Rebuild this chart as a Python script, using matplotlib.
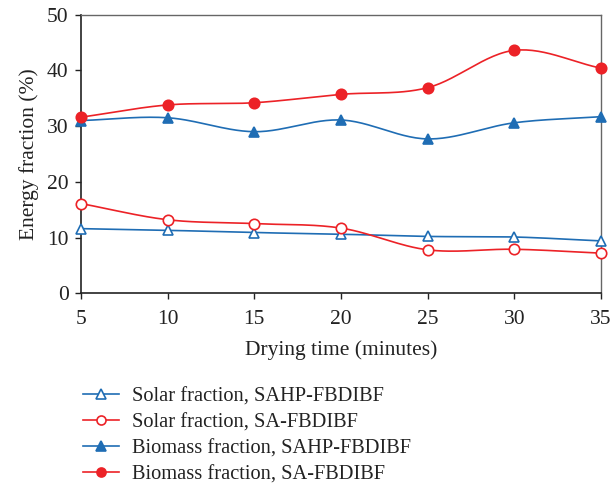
import numpy as np
import matplotlib.pyplot as plt
from matplotlib.lines import Line2D

# drying time (minutes)
time = [5, 10, 15, 20, 25, 30, 35]

# energy fractions (%)
solar_sahp = [11.6, 11.3, 10.9, 10.6, 10.2, 10.1, 9.4]
solar_sa = [16.1, 13.2, 12.5, 11.7, 7.8, 7.9, 7.2]
biomass_sahp = [31.0, 31.5, 29.0, 31.1, 27.7, 30.6, 31.7]
biomass_sa = [31.6, 33.8, 34.2, 35.7, 36.9, 43.6, 40.4]

labels = ['Solar fraction, SAHP-FBDIBF',
          'Solar fraction, SA-FBDIBF',
          'Biomass fraction, SAHP-FBDIBF',
          'Biomass fraction, SA-FBDIBF']

blue = '#1f6db4'
red = '#ec2227'


def smooth(x, y, n=30):
    # Catmull-Rom curve through the points (smoothed line look)
    x = np.asarray(x, float)
    y = np.asarray(y, float)
    px = np.concatenate([[2*x[0]-x[1]], x, [2*x[-1]-x[-2]]])
    py = np.concatenate([[2*y[0]-y[1]], y, [2*y[-1]-y[-2]]])
    xs, ys = [], []
    t = np.linspace(0, 1, n)
    for i in range(1, len(px)-2):
        for p, out in ((px, xs), (py, ys)):
            p0, p1, p2, p3 = p[i-1], p[i], p[i+1], p[i+2]
            out.extend(0.5*((2*p1) + (-p0+p2)*t + (2*p0-5*p1+4*p2-p3)*t**2
                            + (-p0+3*p1-3*p2+p3)*t**3))
    return xs, ys


plt.rcParams['font.family'] = ['Liberation Serif', 'DejaVu Serif']
fig = plt.figure(figsize=(6.11, 4.83), dpi=100)
ax = fig.add_axes([0.1326, 0.3928, 0.851, 0.5768])

series = [
    (solar_sahp, blue, '^', 'white'),
    (solar_sa, red, 'o', 'white'),
    (biomass_sahp, blue, '^', blue),
    (biomass_sa, red, 'o', red),
]
handles = []
for (vals, c, m, fc), lab in zip(series, labels):
    sx, sy = smooth(time, vals)
    ax.plot(sx, sy, color=c, lw=1.2, zorder=2)
    ax.plot(time, vals, ls='none', marker=m, ms=7.5, mfc=fc, mec=c, mew=1.2,
            zorder=3, clip_on=False)
    handles.append(Line2D([], [], color=c, lw=1.2, marker=m, ms=6.5,
                          mfc=fc, mec=c, mew=1.2))

ax.set_xlim(5, 35)
ax.set_ylim(0, 50)
ax.set_xticks(time)
ax.set_yticks(range(0, 51, 10))
ax.tick_params(direction='out', length=4, width=1, labelsize=15.5,
               colors='#222222', pad=5)
ax.tick_params(axis='x', pad=8)
for s in ['top', 'right']:
    ax.spines[s].set_color('#666666')
    ax.spines[s].set_linewidth(1.0)
for s in ['left', 'bottom']:
    ax.spines[s].set_color('#222222')
    ax.spines[s].set_linewidth(1.2)

ax.set_xlabel('Drying time (minutes)', fontsize=15.5, color='#222222', labelpad=8)
ax.set_ylabel('Energy fraction (%)', fontsize=15.5, color='#222222', labelpad=6)

fig.legend(handles, labels, loc='upper left', bbox_to_anchor=(0.122, 0.216),
           frameon=False, fontsize=14.7, handlelength=1.8, handletextpad=0.6,
           labelspacing=0.33, borderaxespad=0, labelcolor='#222222')

fig.savefig('out.png', dpi=100)
